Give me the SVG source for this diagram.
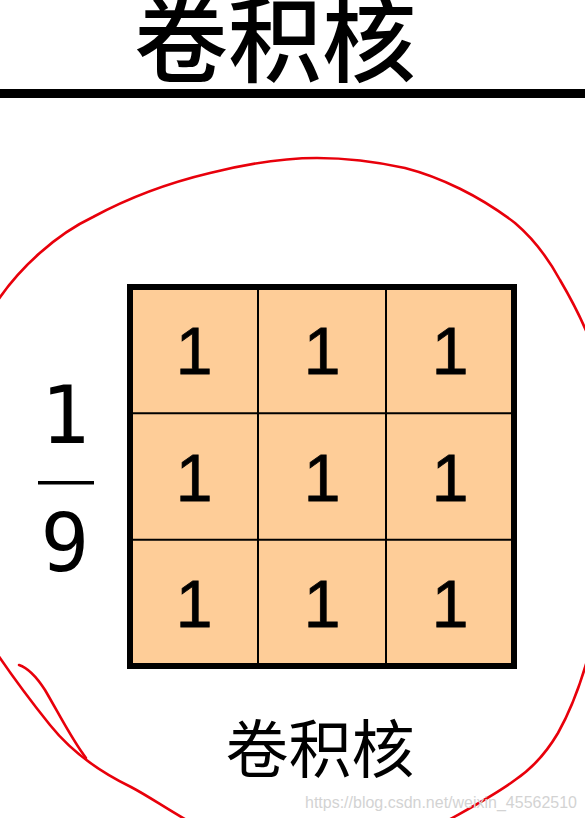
<svg xmlns="http://www.w3.org/2000/svg" width="585" height="818" viewBox="0 0 585 818">
<style>
.cjk{font-family:"Noto Sans CJK SC","Noto Sans",sans-serif;fill:#000}
.one{font-family:"Liberation Sans",Arimo,Roboto,sans-serif;font-size:66px;text-anchor:middle;fill:#000;stroke:#000;stroke-width:0.8}
.frac{font-family:"DejaVu Sans Mono",monospace;font-size:81px;text-anchor:middle;fill:#000}
.red{fill:none;stroke:#e8000b;stroke-width:2.6;stroke-linecap:round;stroke-linejoin:round}
.grid{stroke:#000;stroke-width:2;fill:none}
</style>
<rect width="585" height="818" fill="#fff"/>
<g id="title">
<text class="cjk" x="275" y="75" font-size="94" font-weight="500" text-anchor="middle">卷积核</text>
<rect x="0" y="89" width="585" height="9" fill="#000"/>
</g>
<g id="fraction">
<text class="frac" x="65" y="443">1</text>
<rect x="38" y="481" width="56" height="3.5" fill="#000"/>
<text class="frac" x="65" y="571">9</text>
</g>
<g id="kernel">
<rect x="130" y="287" width="384" height="379" fill="#fecd98"/>
<line class="grid" x1="258" y1="287" x2="258" y2="666"/>
<line class="grid" x1="386" y1="287" x2="386" y2="666"/>
<line class="grid" x1="130" y1="413.3" x2="514" y2="413.3"/>
<line class="grid" x1="130" y1="539.7" x2="514" y2="539.7"/>
<rect x="130" y="287" width="384" height="379" fill="none" stroke="#000" stroke-width="6"/>
<text class="one" x="194" y="374">1</text>
<text class="one" x="322" y="374">1</text>
<text class="one" x="450" y="374">1</text>
<text class="one" x="194" y="501">1</text>
<text class="one" x="322" y="501">1</text>
<text class="one" x="450" y="501">1</text>
<text class="one" x="194" y="627">1</text>
<text class="one" x="322" y="627">1</text>
<text class="one" x="450" y="627">1</text>
</g>
<g id="label">
<text class="cjk" x="320" y="772" font-size="63" text-anchor="middle">卷积核</text>
</g>
<g id="connectors">
<path class="red" d="M-2,300 C20,268 55,235 93,217 C130,197 168,183 210,173 C250,163 285,158 317,158 C345,158 373,161 405,168 C440,177 480,196 515,223 C535,240 548,258 560,280 C570,297 580,315 590,340"/>
<path class="red" d="M-2,655 C15,680 30,700 50,725 C70,750 100,772 131,787 C150,797 165,808 190,822"/>
<path class="red" d="M19,665 C28,668 36,676 45,690 C58,712 72,740 86,758"/>
<path class="red" d="M590,650 C582,680 572,708 558,733 C545,755 530,770 515,780 C495,795 470,808 445,822"/>
</g>
<g id="watermark">
<text x="305" y="808" font-family="'Liberation Sans', Arial, sans-serif" font-size="17" fill="#d3d3d3" textLength="272" lengthAdjust="spacingAndGlyphs">https://blog.csdn.net/weixin_45562510</text>
</g>
</svg>
